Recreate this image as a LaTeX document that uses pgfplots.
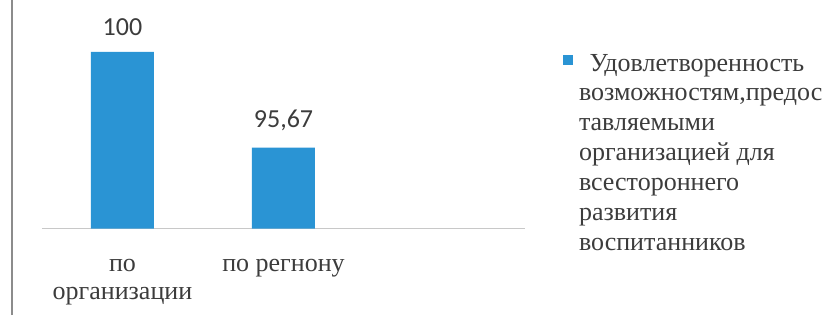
\documentclass[border=0pt]{standalone}
\usepackage{pgfplots}
\pgfplotsset{compat=1.18}
\usepackage{fontspec}
\setmainfont{Liberation Serif}
\newfontfamily\numfont{Carlito}
\definecolor{barblue}{RGB}{42,148,212}
\definecolor{txt}{RGB}{60,60,60}
\definecolor{frame}{RGB}{140,140,140}
\definecolor{baseln}{RGB}{200,200,200}
\begin{document}
\begin{tikzpicture}
\useasboundingbox (0,0) rectangle (624.75pt,236.25pt);
\draw[frame, line width=1.2pt] (9pt,0) -- (9pt,236.25pt);
\begin{axis}[
  at={(31.5pt,64.7pt)}, anchor=south west,
  scale only axis,
  width=362.25pt, height=165.75pt,
  ybar, bar width=47.25pt,
  xmin=-0.5, xmax=2.5, ymin=92, ymax=102,
  axis x line=bottom, axis y line=none,
  x axis line style={-, baseln, line width=0.8pt},
  xtick={0,1}, xticklabels={{по\\организации},{по регнону}},
  xtick style={draw=none},
  xticklabel style={align=center, font=\fontsize{19.5}{21}\selectfont, text=txt, yshift=-17.5pt},
  nodes near coords,
  nodes near coords style={font=\numfont\fontsize{19.5}{21}\selectfont, text=txt, yshift=9pt},
  point meta=explicit symbolic,
  legend style={at={(rel axis cs:1.07,0.816)}, anchor=north west, draw=none, fill=none,
    font=\fontsize{19.5}{22.4}\selectfont, text=txt},
  legend cell align=left,
]
\addplot[fill=barblue, draw=none,
  legend image code/.code={\fill[barblue] (0cm,-0.05cm) rectangle (0.27cm,0.22cm); \path (0.35cm,0);}]
  coordinates {(0,100) [100] (1,95.67) [95,67]};
\addlegendentry{\parbox[t]{200pt}{\raggedright \hspace*{8pt}Удовлетворенность\\возможностям,предос\\тавляемыми\\организацией для\\всестороннего\\развития\\воспитанников}}
\end{axis}
\end{tikzpicture}
\end{document}
